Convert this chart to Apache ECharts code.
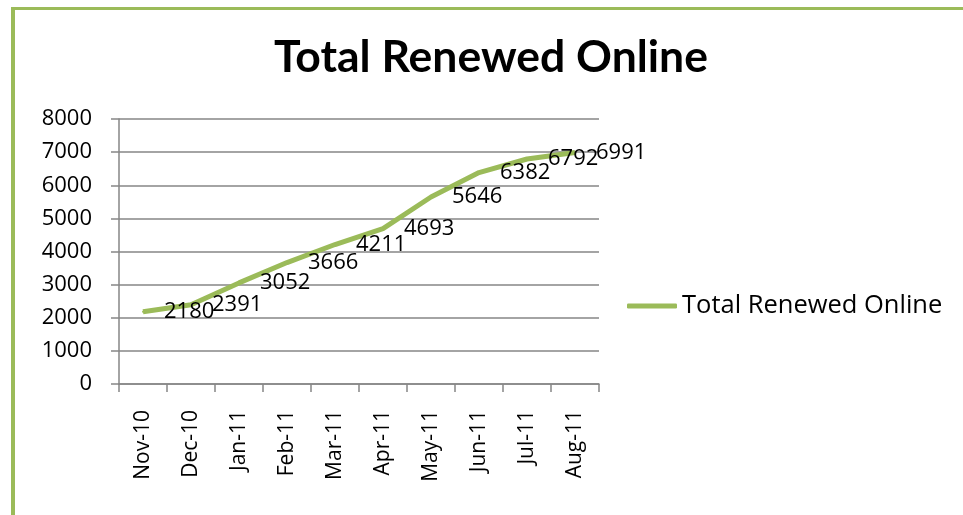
<!DOCTYPE html>
<html>
<head>
<meta charset="utf-8">
<script src="https://cdn.jsdelivr.net/npm/echarts@6/dist/echarts.min.js"></script>
<style>
  html, body { margin: 0; padding: 0; background: #fff }
  #chart { width: 963px; height: 515px }
</style>
</head>
<body>
<div id="chart"></div>
<script>
const months = ['Nov-10', 'Dec-10', 'Jan-11', 'Feb-11', 'Mar-11', 'Apr-11', 'May-11', 'Jun-11', 'Jul-11', 'Aug-11']
const renewed = [2180, 2391, 3052, 3666, 4211, 4693, 5646, 6382, 6792, 6991]
const yTicks = { min: 0, max: 8000, step: 1000 }

const green = '#9bbb59'
const gray = '#868686'
const font = '"Open Sans", "Noto Sans", sans-serif'
const titleFont = 'Lato, "Open Sans", sans-serif'

const chart = echarts.init(document.getElementById('chart'))
chart.setOption({
  animation: false,
  textStyle: { fontFamily: font },
  graphic: [
    { type: 'rect', shape: { x: 11, y: 7, width: 4, height: 515 }, style: { fill: green } },
    { type: 'rect', shape: { x: 11, y: 7, width: 960, height: 3 }, style: { fill: green } }
  ],
  title: {
    text: 'Total Renewed Online',
    left: 486, top: 30, textAlign: 'center',
    textStyle: { fontSize: 44.5, fontWeight: 'bold', color: '#000', fontFamily: titleFont }
  },
  legend: {
    left: 622, top: 288,
    itemWidth: 50, itemHeight: 5, itemGap: 4,
    icon: 'roundRect',
    itemStyle: { color: green },
    textStyle: { fontSize: 25.5, color: '#000', fontFamily: font, padding: [0, 0, 0, 0] },
    data: ['Total Renewed Online']
  },
  grid: { left: 119, right: 364, top: 119, bottom: 131 },
  xAxis: {
    type: 'category',
    data: months,
    boundaryGap: true,
    axisLine: { lineStyle: { color: gray, width: 1.5 } },
    axisTick: { show: true, length: 8, lineStyle: { color: gray, width: 1.5 } },
    axisLabel: { rotate: 90, margin: 26, fontSize: 21, color: '#000', fontFamily: font }
  },
  yAxis: {
    type: 'value',
    min: yTicks.min, max: yTicks.max, interval: yTicks.step,
    axisLine: { show: true, lineStyle: { color: gray, width: 1.5 } },
    axisTick: { show: true, length: 8, lineStyle: { color: gray, width: 1.5 } },
    splitLine: { lineStyle: { color: gray, width: 1.5 } },
    axisLabel: { margin: 27, fontSize: 22, color: '#000', fontFamily: font, formatter: v => String(v) }
  },
  series: [{
    name: 'Total Renewed Online',
    type: 'line',
    data: renewed,
    symbol: 'circle',
    symbolSize: 2,
    showSymbol: true,
    lineStyle: { color: green, width: 5 },
    itemStyle: { color: green },
    label: {
      show: true, position: 'right', distance: 20, offset: [0, 7],
      fontSize: 22, color: '#000', fontFamily: font
    },
    labelLayout: { hideOverlap: false }
  }]
})
</script>
</body>
</html>
